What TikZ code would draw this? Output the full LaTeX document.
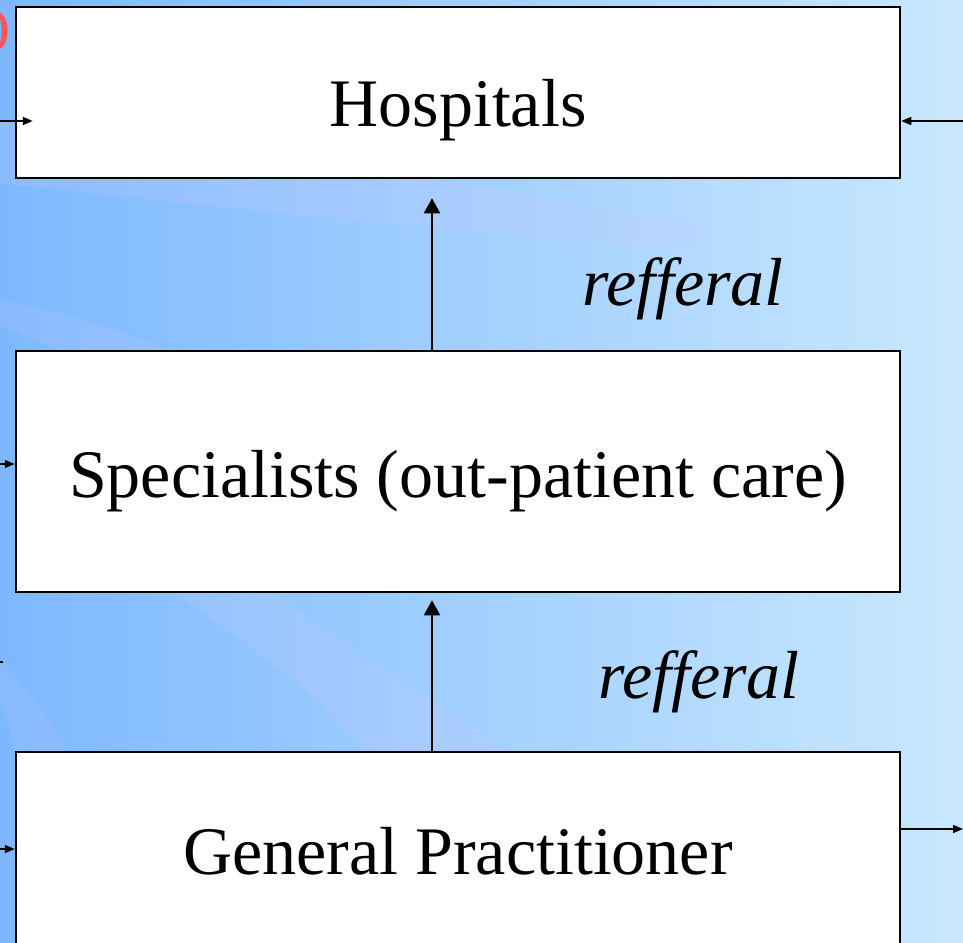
\documentclass[tikz,border=0pt]{standalone}
\usepackage{fontspec}
\setmainfont{Liberation Serif}
\usepackage{tikz}
\usetikzlibrary{arrows.meta}
\usetikzlibrary{positioning}
\definecolor{bgleft}{RGB}{125,184,255}
\definecolor{bgmid}{RGB}{170,212,255}
\definecolor{bgright}{RGB}{201,232,254}
\definecolor{streak}{RGB}{200,200,255}
\definecolor{slidered}{RGB}{255,85,85}

\begin{document}
\begin{tikzpicture}[x=1pt,y=-1pt,
	level/.style={draw=black,line width=2.5pt,fill=white,minimum width=884pt,inner sep=0pt},
	caption/.style={inner sep=0pt,font=\fontsize{68}{80}\selectfont},
	note/.style={inner sep=0pt,font=\fontsize{68}{80}\selectfont\itshape},
	refer/.style={line width=2pt,-{Triangle[length=15pt,width=16pt]}},
	side/.style={line width=1.5pt,-{Triangle[length=10pt,width=8pt]}}]
	\useasboundingbox (0,0) rectangle (963,942);
	\begin{scope}
	\clip (0,0) rectangle (963,942);
	\shade[left color=bgleft,middle color=bgmid,right color=bgright] (0,0) rectangle (963,942);
	\fill[streak,opacity=0.22] (0,120) .. controls (200,140) and (450,180) .. (700,225) -- (700,250) .. controls (450,232) and (200,205) .. (0,183) -- cycle;
	\fill[streak,opacity=0.18] (0,300) .. controls (60,310) and (120,330) .. (170,351) -- (60,351) .. controls (40,340) and (20,335) .. (0,325) -- cycle;
	\fill[streak,opacity=0.22] (175,593) .. controls (260,650) and (320,700) .. (370,752) -- (510,752) .. controls (420,690) and (330,640) .. (276,593) -- cycle;
	\fill[streak,opacity=0.15] (0,660) .. controls (30,690) and (50,720) .. (70,752) -- (15,752) .. controls (10,730) and (5,715) .. (0,705) -- cycle;

	\node[level,minimum height=171pt] (hosp) at (458,92.5) {};
	\node[level,minimum height=241pt] (spec) at (458,471.5) {};
	\node[level,minimum height=220pt] (gp) at (458,862) {};
	\node[caption,anchor=base] (hospt) at (458,126) {Hospitals};
	\node[caption,anchor=base] (spect) at (458,497) {Specialists (out-patient care)};
	\node[caption,anchor=base] (gpt) at (458,874) {General Practitioner};
	\node[note,anchor=base west] (ref1) at (582,305) {refferal};
	\node[note,anchor=base west] (ref2) at (598,698) {refferal};
	\node[inner sep=0pt,anchor=east,text=slidered,font=\fontsize{47}{52}\selectfont\bfseries] (paren) at (10.5,31) {)};

	\draw[refer] ([xshift=-26pt]spec.north) -- ([xshift=-26pt,yshift=-19pt]hosp.south);
	\draw[refer] ([xshift=-26pt]gp.north) -- ([xshift=-26pt,yshift=-7pt]spec.south);

	\coordinate (inH) at (0,121);
	\coordinate (inHr) at (963,121);
	\coordinate (inS) at (0,464);
	\coordinate (inG) at (0,849);
	\coordinate (outG) at (963,829);
	\draw[side,shorten >=-18pt] (inH) -- (inH -| hosp.west);
	\draw[side] (inHr) -- (inHr -| hosp.east);
	\draw[side] (inS) -- (inS -| spec.west);
	\draw[side] (inG) -- (inG -| gp.west);
	\draw[side] (outG -| gp.east) -- (outG);
	\draw[line width=1.5pt] (0,662) -- (3,662);
	\end{scope}
\end{tikzpicture}
\end{document}
